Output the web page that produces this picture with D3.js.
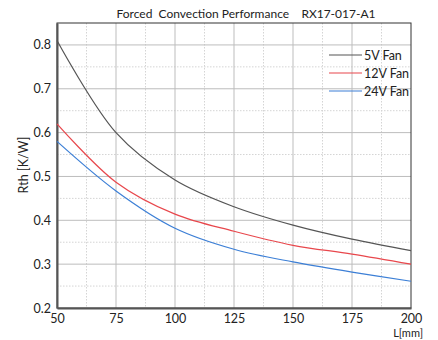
<!DOCTYPE html>
<html><head><meta charset="utf-8">
<script src="https://cdn.jsdelivr.net/npm/d3@7"></script>
<style>body{margin:0;background:#fff}svg{display:block}</style>
</head><body>
<svg id="c" width="438" height="340"></svg>
<script>
const lengths = [50, 75, 100, 125, 150, 175, 200];
const fan5V  = [0.81, 0.60, 0.492, 0.431, 0.389, 0.357, 0.331];
const fan12V = [0.62, 0.487, 0.414, 0.375, 0.343, 0.323, 0.30];
const fan24V = [0.58, 0.467, 0.382, 0.334, 0.305, 0.282, 0.261];
const seriesNames = ["5V Fan", "12V Fan", "24V Fan"];
const seriesColors = ["#555555", "#e8474c", "#3c7fd6"];
const xTicks = [50, 75, 100, 125, 150, 175, 200];
const yTicks = [0.2, 0.3, 0.4, 0.5, 0.6, 0.7, 0.8];
const title = "Forced  Convection Performance    RX17-017-A1";

const font = "Lato, sans-serif";
const fs = 12.5;
const svg = d3.select("#c");
const m = {l:57, r:411, t:23, b:308};
const x = d3.scaleLinear().domain([50,200]).range([m.l, m.r]);
const y = d3.scaleLinear().domain([0.2,0.85]).range([m.b, m.t]);

// minor grid
const xMinor = d3.range(62.5, 200, 25);
const yMinor = d3.range(0.25, 0.85, 0.1);
svg.append("g").selectAll("line").data(xMinor).join("line")
  .attr("x1", d=>x(d)).attr("x2", d=>x(d)).attr("y1", m.t).attr("y2", m.b)
  .attr("stroke", "#d4d4d4").attr("stroke-width", 1).attr("stroke-dasharray", "1.5,1.5");
svg.append("g").selectAll("line").data(yMinor).join("line")
  .attr("y1", d=>y(d)).attr("y2", d=>y(d)).attr("x1", m.l).attr("x2", m.r)
  .attr("stroke", "#d4d4d4").attr("stroke-width", 1).attr("stroke-dasharray", "1.5,1.5");
// major grid
svg.append("g").selectAll("line").data(xTicks.slice(1,-1)).join("line")
  .attr("x1", d=>x(d)).attr("x2", d=>x(d)).attr("y1", m.t).attr("y2", m.b)
  .attr("stroke", "#bdbdbd").attr("stroke-width", 1);
svg.append("g").selectAll("line").data(yTicks.slice(1)).join("line")
  .attr("y1", d=>y(d)).attr("y2", d=>y(d)).attr("x1", m.l).attr("x2", m.r)
  .attr("stroke", "#bdbdbd").attr("stroke-width", 1);

// frame
svg.append("rect").attr("x", m.l).attr("y", m.t).attr("width", m.r-m.l).attr("height", m.b-m.t)
  .attr("fill", "none").attr("stroke", "#333").attr("stroke-width", 1);

// axes
const xAxis = svg.append("g").attr("transform", `translate(0,${m.b})`)
  .call(d3.axisBottom(x).tickValues(xTicks).tickSize(0).tickPadding(6).tickFormat(d3.format("d")));
const yAxis = svg.append("g").attr("transform", `translate(${m.l},0)`)
  .call(d3.axisLeft(y).tickValues(yTicks).tickSize(0).tickPadding(6).tickFormat(d3.format(".1f")));
[xAxis, yAxis].forEach(a => {
  a.select(".domain").attr("stroke", "#555").attr("stroke-width", 2);
  a.selectAll("text").attr("font-family", font).attr("font-size", fs).attr("fill", "#222");
});

// lines
const allSeries = [fan5V, fan12V, fan24V];
const line = d3.line().x((d,i)=>x(lengths[i])).y(d=>y(d)).curve(d3.curveCatmullRom.alpha(0.5));
svg.append("g").selectAll("path").data(allSeries).join("path")
  .attr("d", d=>line(d)).attr("fill", "none")
  .attr("stroke", (d,i)=>seriesColors[i]).attr("stroke-width", 1.2);

// legend
const lg = svg.append("g");
seriesNames.forEach((n,i) => {
  const yy = 55 + i*18;
  lg.append("line").attr("x1", 329).attr("x2", 362).attr("y1", yy).attr("y2", yy)
    .attr("stroke", seriesColors[i]).attr("stroke-width", 1.2);
  lg.append("text").attr("x", 364).attr("y", yy+4.5).text(n)
    .attr("font-family", font).attr("font-size", fs).attr("fill", "#222");
});

// title
svg.append("text").attr("x", 246).attr("y", 18).attr("text-anchor", "middle")
  .attr("font-family", font).attr("font-size", 12).attr("fill", "#222")
  .attr("xml:space", "preserve").style("white-space", "pre").text(title);

// axis titles
svg.append("text").attr("transform", "translate(28,165) rotate(-90)").attr("text-anchor", "middle")
  .attr("font-family", font).attr("font-size", fs).attr("fill", "#222").text("Rth [K/W]");
svg.append("text").attr("x", 423).attr("y", 337).attr("text-anchor", "end")
  .attr("font-family", font).attr("font-size", 11).attr("fill", "#222").text("L[mm]");
</script>
</body></html>
